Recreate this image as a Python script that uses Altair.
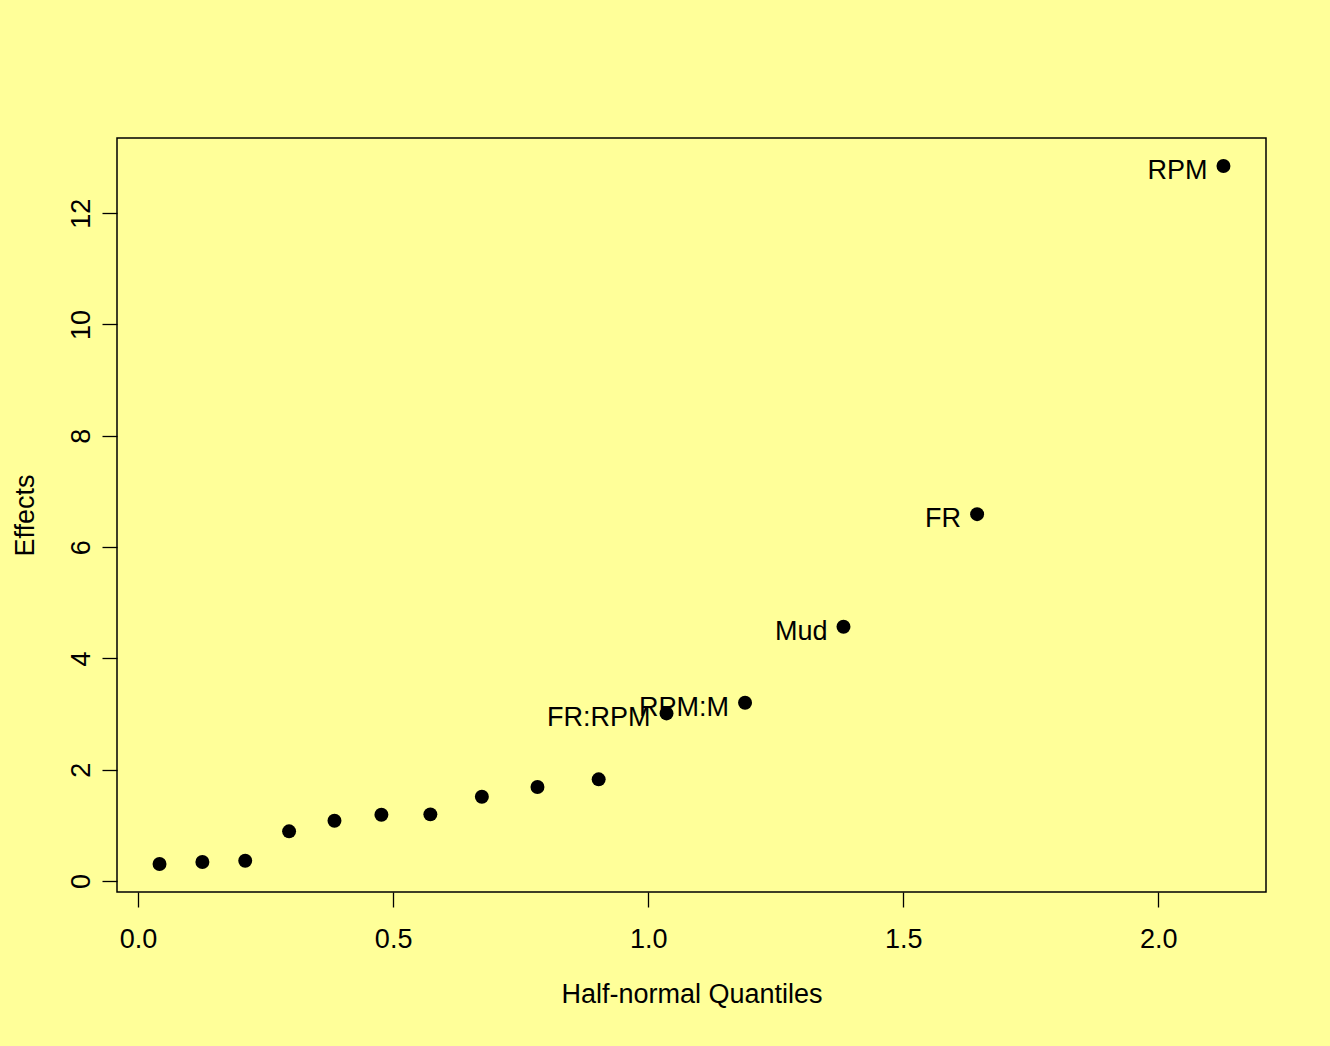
import altair as alt
import pandas as pd

# Half-normal quantiles (x) and absolute effects (y)
quantiles = [0.042, 0.126, 0.210, 0.296, 0.385, 0.477, 0.573, 0.674,
             0.783, 0.903, 1.036, 1.190, 1.383, 1.645, 2.128]
effects = [0.305, 0.341, 0.365, 0.893, 1.083, 1.191, 1.198, 1.514,
           1.689, 1.827, 3.012, 3.203, 4.568, 6.592, 12.849]
labels = ["", "", "", "", "", "", "", "", "", "",
          "FR:RPM", "RPM:M", "Mud", "FR", "RPM"]

x_ticks = [0.0, 0.5, 1.0, 1.5, 2.0]
y_ticks = [0, 2, 4, 6, 8, 10, 12]

df = pd.DataFrame({"q": quantiles, "eff": effects, "lab": labels})

FONT = "Liberation Sans"
FS = 27
BG = "#FFFF99"

xscale = alt.Scale(domain=[-0.0414, 2.2114], nice=False, zero=False)
yscale = alt.Scale(domain=[-0.197, 13.351], nice=False, zero=False)

xaxis = alt.Axis(
    values=x_ticks, format=".1f", grid=False, domain=False,
    tickSize=15, tickColor="black", tickWidth=1.3,
    labelFont=FONT, labelFontSize=FS, labelColor="black",
    labelPadding=19, labelBaseline="top",
    title="Half-normal Quantiles", titleFont=FONT, titleFontSize=FS,
    titleFontWeight="normal", titleColor="black",
    titleBaseline="alphabetic", titleY=110,
)
yaxis = alt.Axis(
    values=y_ticks, format="d", grid=False, domain=False,
    tickSize=15, tickColor="black", tickWidth=1.3,
    labelFont=FONT, labelFontSize=FS, labelColor="black",
    labelAngle=270, labelAlign="center", labelBaseline="alphabetic",
    labelPadding=13,
    title="Effects", titleFont=FONT, titleFontSize=FS,
    titleFontWeight="normal", titleColor="black",
    titleAngle=270, titleAlign="center", titleBaseline="alphabetic",
    titleX=-84,
)

base = alt.Chart(df)

text = base.transform_filter(alt.datum.lab != "").mark_text(
    align="right", baseline="alphabetic", dx=-16, dy=13,
    font=FONT, fontSize=FS, color="black",
).encode(
    x=alt.X("q:Q", scale=xscale, axis=xaxis),
    y=alt.Y("eff:Q", scale=yscale, axis=yaxis),
    text="lab:N",
)

points = base.mark_circle(size=195, color="black", opacity=1).encode(
    x=alt.X("q:Q", scale=xscale, axis=xaxis),
    y=alt.Y("eff:Q", scale=yscale, axis=yaxis),
)

chart = alt.layer(text, points).properties(
    width=1149, height=754,
    background=BG,
    padding={"left": 117, "top": 138, "right": 64, "bottom": 154},
    autosize=alt.AutoSizeParams(type="none"),
).configure_view(
    stroke="black", strokeWidth=1.5, fill=BG,
)

chart.save("out.html", embed_options={"renderer": "svg", "actions": False})
